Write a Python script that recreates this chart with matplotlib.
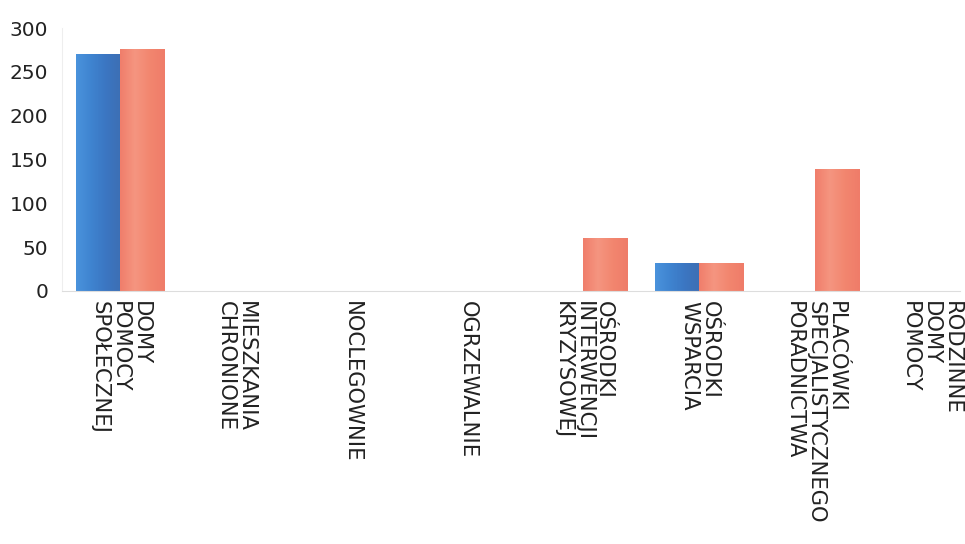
import numpy as np
import matplotlib
matplotlib.use("Agg")
import matplotlib.pyplot as plt
from matplotlib.colors import LinearSegmentedColormap

plt.rcParams["font.family"] = ["DejaVu Sans"]

# Data
categories = [
    "DOMY\nPOMOCY\nSPOŁECZNEJ",
    "MIESZKANIA\nCHRONIONE",
    "NOCLEGOWNIE",
    "OGRZEWALNIE",
    "OŚRODKI\nINTERWENCJI\nKRYZYSOWEJ",
    "OŚRODKI\nWSPARCIA",
    "PLACÓWKI\nSPECJALISTYCZNEGO\nPORADNICTWA",
    "RODZINNE\nDOMY\nPOMOCY",
]
series_blue = [270, 0, 0, 0, 0, 32, 0, 0]
series_red = [276, 0, 0, 0, 60, 32, 139, 0]
yticks = [0, 50, 100, 150, 200, 250, 300]

blue_cmap = LinearSegmentedColormap.from_list("b", ["#4a93dc", "#3f84d0", "#3b76c2", "#3d6fb4"])
red_cmap = LinearSegmentedColormap.from_list("r", ["#f07e6b", "#f59580", "#f2866f", "#ef7c69"])

fig = plt.figure(figsize=(9.65, 5.44), dpi=100)
ax = fig.add_axes([62 / 965, 1 - 291 / 544, 898 / 965, (291 - 28) / 544])

x = np.arange(len(categories))
w = 0.38
bars_b = ax.bar(x - w / 2, series_blue, width=w, color="#3d80cf", edgecolor="#2f66a8", linewidth=0.6, zorder=2)
bars_r = ax.bar(x + w / 2, series_red, width=w, color="#f2846f", edgecolor="#d8705e", linewidth=0.6, zorder=2)

# horizontal gradient inside each bar
grad = np.linspace(0, 1, 64).reshape(1, -1)
for bars, cmap in ((bars_b, blue_cmap), (bars_r, red_cmap)):
    for b in bars:
        h = b.get_height()
        if h <= 0:
            continue
        x0 = b.get_x()
        im = ax.imshow(grad, cmap=cmap, aspect="auto", extent=[x0, x0 + b.get_width(), 0, h], zorder=2.5)
        im.set_clip_path(b)

ax.set_xlim(-0.5, 7.25)
ax.set_ylim(0, 300)
ax.set_yticks(yticks)
ax.set_yticklabels([str(t) for t in yticks], fontsize=14.5, color="#222222")
ax.set_xticks(x)
ax.set_xticklabels(categories, rotation=270, fontsize=15.2, color="#222222",
                   va="top", ha="center", multialignment="left", linespacing=1.05)
ax.tick_params(axis="both", length=0)
ax.tick_params(axis="y", pad=10)
ax.tick_params(axis="x", pad=7)

for s in ("top", "right"):
    ax.spines[s].set_visible(False)
ax.spines["left"].set_color("#eeeeee")
ax.spines["left"].set_linewidth(0.8)
ax.spines["bottom"].set_color("#dddddd")
ax.spines["bottom"].set_linewidth(0.8)

fig.savefig("out.png", dpi=100)
